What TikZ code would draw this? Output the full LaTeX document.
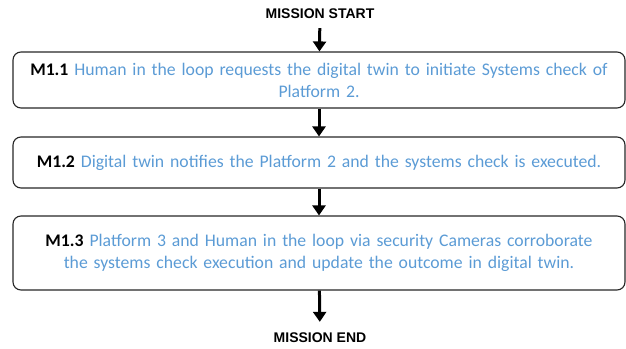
\documentclass[tikz,border=0pt]{standalone}
\usepackage{fontspec}
\setmainfont{Carlito}
\newfontfamily\headfont{Liberation Sans}
\usetikzlibrary{arrows.meta}
\usepackage{xcolor}
\definecolor{stepblue}{RGB}{91,155,213}
\tikzset{
  missionbox/.style={draw=black!85, line width=1.1pt, rounded corners=8pt, text width=592pt, inner xsep=10pt, align=center, font=\fontsize{17.7}{22}\selectfont, text=stepblue},
  missionlabel/.style={font=\headfont\bfseries\fontsize{14}{16}\selectfont, inner sep=0pt},
  flow/.style={line width=3pt, -{Triangle[width=13pt,length=10pt]}}
}

\begin{document}
\begin{tikzpicture}[x=1pt,y=-1pt]
      \useasboundingbox (0,0) rectangle (626,348);
      \node[missionlabel] (start) at (320,14) {MISSION START};
      \node[missionbox, minimum height=56pt] (m11) at (319,80) {\textcolor{black}{\textbf{M1.1}} Human in the loop requests the digital twin to initiate Systems check of\\ Platform 2.};
      \node[missionbox, minimum height=51pt] (m12) at (319,162.5) {\textcolor{black}{\textbf{M1.2}} Digital twin notifies the Platform 2 and the systems check is executed.};
      \node[missionbox, minimum height=74pt] (m13) at (319,253) {\textcolor{black}{\textbf{M1.3}} Platform 3 and Human in the loop via security Cameras corroborate\\ the systems check execution and update the outcome in digital twin.};
      \node[missionlabel] (end) at (320,338) {MISSION END};
      \draw[flow, shorten <=9pt] (start) -- (m11);
      \draw[flow] (m11) -- (m12);
      \draw[flow] (m12) -- (m13);
      \draw[flow, shorten >=11pt] (m13) -- (end);
    \end{tikzpicture}
\end{document}
